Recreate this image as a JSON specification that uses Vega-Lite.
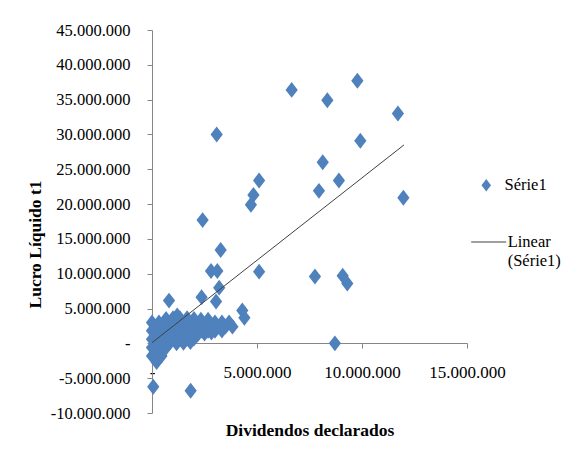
{
  "$schema": "https://vega.github.io/schema/vega-lite/v6.json",
  "width": 315,
  "height": 383,
  "autosize": "none",
  "padding": {"left": 152, "top": 30, "right": 107, "bottom": 55},
  "config": {
    "font": "Liberation Serif",
    "view": {"stroke": null},
    "locale": {"number": {"decimal": ",", "thousands": ".", "grouping": [3], "currency": ["", ""], "minus": "-"}},
    "axis": {
      "grid": false,
      "domainColor": "#868686",
      "tickColor": "#868686",
      "tickSize": 5,
      "labelFont": "Liberation Serif",
      "labelFontSize": 17,
      "labelColor": "#000000",
      "labelFlush": false,
      "labelOverlap": false,
      "labelBound": false,
      "titleFont": "Liberation Serif",
      "titleFontSize": 17.5,
      "titleFontWeight": "bold",
      "titleColor": "#000000"
    },
    "legend": {"labelFont": "Liberation Serif", "labelFontSize": 16.5, "labelColor": "#000000", "padding": 0}
  },
  "encoding": {
    "x": {
      "field": "x", "type": "quantitative",
      "scale": {"domain": [0, 15000000], "nice": false, "zero": false},
      "axis": {
        "values": [0, 5000000, 10000000, 15000000],
        "format": ",d",
        "labelExpr": "datum.value == 0 ? '-' : datum.label",
        "labelOverlap": false,
        "labelFontSize": 17,
        "offset": -70,
        "labelPadding": 16,
        "title": "Dividendos declarados",
        "titleBaseline": "middle",
        "titleY": 87
      }
    },
    "y": {
      "field": "y", "type": "quantitative",
      "scale": {"domain": [-10000000, 45000000], "nice": false, "zero": false},
      "axis": {
        "values": [-10000000, -5000000, 0, 5000000, 10000000, 15000000, 20000000, 25000000, 30000000, 35000000, 40000000, 45000000],
        "format": ",d",
        "labelExpr": "datum.value == 0 ? '-\u2009' : datum.label",
        "labelOverlap": false,
        "labelFontSize": 16.5,
        "labelPadding": 17,
        "title": "Lucro Líquido t1",
        "titleBaseline": "middle",
        "titleX": -117,
        "titleY": 214
      }
    }
  },
  "layer": [
    {
      "data": {
        "values": [
          {"x": 6650000, "y": 36400000}, {"x": 9780000, "y": 37700000}, {"x": 8350000, "y": 34900000},
          {"x": 3080000, "y": 30000000}, {"x": 11710000, "y": 33000000}, {"x": 9920000, "y": 29100000},
          {"x": 8130000, "y": 26000000}, {"x": 5100000, "y": 23400000}, {"x": 8900000, "y": 23400000},
          {"x": 4830000, "y": 21300000}, {"x": 4710000, "y": 19900000}, {"x": 7950000, "y": 21900000},
          {"x": 11970000, "y": 20900000}, {"x": 2410000, "y": 17700000}, {"x": 3270000, "y": 13400000},
          {"x": 2810000, "y": 10400000}, {"x": 3110000, "y": 10400000}, {"x": 5100000, "y": 10300000},
          {"x": 7760000, "y": 9600000}, {"x": 9080000, "y": 9700000}, {"x": 9300000, "y": 8600000},
          {"x": 3200000, "y": 8000000}, {"x": 8710000, "y": 0}, {"x": 810000, "y": 6140000},
          {"x": 2360000, "y": 6640000}, {"x": 3050000, "y": 6000000}, {"x": 4300000, "y": 4710000},
          {"x": 4400000, "y": 3670000}, {"x": 60000, "y": -6240000}, {"x": 1840000, "y": -6810000},
          {"x": 220000, "y": -2670000}, {"x": 200000, "y": -2400000},
          {"x": 0, "y": -1800000}, {"x": 450000, "y": -1800000},
          {"x": 150000, "y": -1200000}, {"x": 500000, "y": -1200000},
          {"x": 0, "y": -600000}, {"x": 330000, "y": -600000}, {"x": 670000, "y": -600000},
          {"x": 170000, "y": 0}, {"x": 500000, "y": 0}, {"x": 830000, "y": 0}, {"x": 1170000, "y": 0}, {"x": 1500000, "y": 100000}, {"x": 1830000, "y": 200000},
          {"x": 0, "y": 600000}, {"x": 330000, "y": 600000}, {"x": 670000, "y": 600000}, {"x": 1000000, "y": 600000}, {"x": 1330000, "y": 600000}, {"x": 1670000, "y": 650000}, {"x": 2000000, "y": 700000},
          {"x": 170000, "y": 1200000}, {"x": 500000, "y": 1200000}, {"x": 830000, "y": 1200000}, {"x": 1170000, "y": 1200000}, {"x": 1500000, "y": 1200000}, {"x": 1830000, "y": 1200000}, {"x": 2170000, "y": 1250000}, {"x": 2500000, "y": 1400000}, {"x": 2830000, "y": 1550000},
          {"x": 0, "y": 1800000}, {"x": 330000, "y": 1800000}, {"x": 670000, "y": 1800000}, {"x": 1000000, "y": 1800000}, {"x": 1330000, "y": 1800000}, {"x": 1670000, "y": 1800000}, {"x": 2000000, "y": 1800000}, {"x": 2330000, "y": 1800000}, {"x": 2670000, "y": 1800000}, {"x": 3000000, "y": 1800000}, {"x": 3330000, "y": 1850000},
          {"x": 170000, "y": 2400000}, {"x": 500000, "y": 2400000}, {"x": 830000, "y": 2400000}, {"x": 1170000, "y": 2400000}, {"x": 1500000, "y": 2400000}, {"x": 1830000, "y": 2400000}, {"x": 2170000, "y": 2400000}, {"x": 2500000, "y": 2400000}, {"x": 2830000, "y": 2400000}, {"x": 3170000, "y": 2400000}, {"x": 3500000, "y": 2400000}, {"x": 3830000, "y": 2400000},
          {"x": 0, "y": 3000000}, {"x": 330000, "y": 3000000}, {"x": 670000, "y": 3000000}, {"x": 1000000, "y": 3000000}, {"x": 1330000, "y": 3000000}, {"x": 1670000, "y": 3000000}, {"x": 2000000, "y": 3000000}, {"x": 2330000, "y": 3000000}, {"x": 2670000, "y": 3000000}, {"x": 3000000, "y": 3000000}, {"x": 3330000, "y": 3000000}, {"x": 3670000, "y": 3000000},
          {"x": 670000, "y": 3500000}, {"x": 1000000, "y": 3600000}, {"x": 1330000, "y": 3600000}, {"x": 1670000, "y": 3600000}, {"x": 2000000, "y": 3500000}, {"x": 2330000, "y": 3400000}, {"x": 2670000, "y": 3400000},
          {"x": 1200000, "y": 4000000}
        ]
      },
      "mark": {"type": "point", "filled": true, "opacity": 1, "size": 150, "color": "#4F81BD", "strokeWidth": 0},
      "encoding": {
        "shape": {
          "datum": "Série1",
          "type": "nominal",
          "scale": {"domain": ["Série1"], "range": ["M0,-1.3L1,0L0,1.3L-1,0Z"]},
          "legend": {
            "orient": "none", "legendX": 326, "legendY": 147, "title": null,
            "symbolSize": 90, "labelOffset": 10,
            "labelFont": "Liberation Serif", "labelFontSize": 16.5,
            "symbolFillColor": "#4F81BD", "symbolStrokeWidth": 0
          }
        }
      }
    },
    {
      "data": {"values": [{"x": 0, "y": 100000}, {"x": 12000000, "y": 28500000}]},
      "mark": {"type": "line", "strokeWidth": 1},
      "encoding": {
        "color": {
          "datum": "Linear (Série1)",
          "type": "nominal",
          "scale": {"domain": ["Linear (Série1)"], "range": ["#404040"]},
          "legend": {
            "orient": "none", "legendX": 318.7, "legendY": 194, "title": null,
            "symbolType": "stroke", "symbolSize": 1225, "symbolStrokeWidth": 1,
            "symbolStrokeColor": "#404040", "labelOffset": 1,
            "labelFont": "Liberation Serif", "labelFontSize": 16.5,
            "labelExpr": "['Linear', '(Série1)']"
          }
        }
      }
    }
  ]
}
